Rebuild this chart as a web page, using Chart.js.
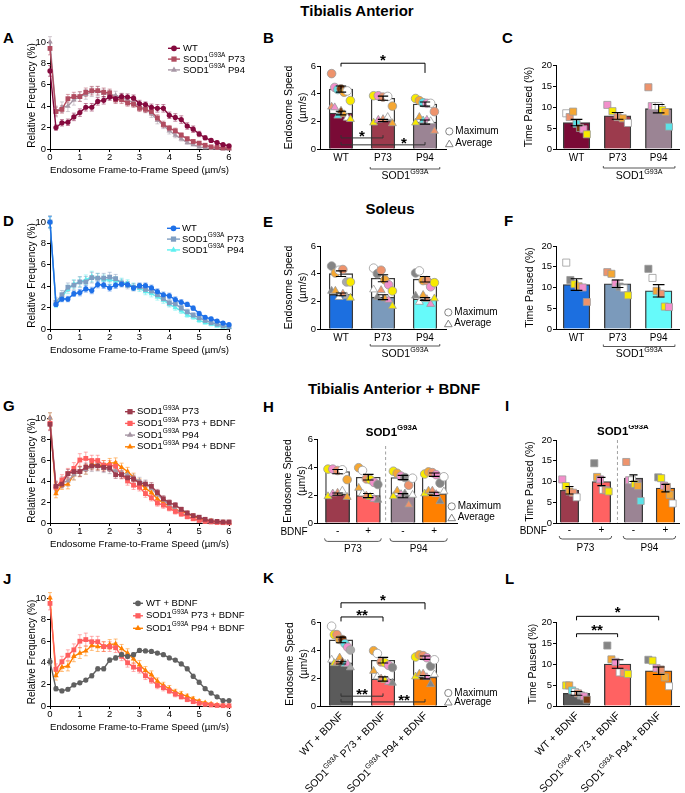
<!DOCTYPE html>
<html><head><meta charset="utf-8">
<script src="https://cdn.jsdelivr.net/npm/chart.js"></script>
<style>
html,body{margin:0;padding:0;background:#fff}
body{position:relative;width:685px;height:793px;overflow:hidden;font-family:"Liberation Sans",Arial,sans-serif}
.t{position:absolute;font-weight:bold;color:#000;line-height:1;white-space:nowrap;font-size:15px}
.sect{transform:translateX(-50%)}
canvas{position:absolute}
</style></head><body>
<div class="t sect" style="left:357px;top:3px">Tibialis Anterior</div>
<div class="t sect" style="left:390px;top:201px">Soleus</div>
<div class="t sect" style="left:394px;top:381px">Tibialis Anterior + BDNF</div>
<div class="t" style="left:3px;top:30px">A</div>
<div class="t" style="left:263px;top:30px">B</div>
<div class="t" style="left:502px;top:30px">C</div>
<div class="t" style="left:3px;top:213px">D</div>
<div class="t" style="left:263px;top:214px">E</div>
<div class="t" style="left:504px;top:213px">F</div>
<div class="t" style="left:3px;top:398px">G</div>
<div class="t" style="left:263px;top:399px">H</div>
<div class="t" style="left:505px;top:398px">I</div>
<div class="t" style="left:3px;top:571px">J</div>
<div class="t" style="left:263px;top:570px">K</div>
<div class="t" style="left:505px;top:571px">L</div>
<script>
// ===================== DATA =====================
const SPEED = [0,0.2,0.4,0.6,0.8,1.0,1.2,1.4,1.6,1.8,2.0,2.2,2.4,2.6,2.8,3.0,3.2,3.4,3.6,3.8,4.0,4.2,4.4,4.6,4.8,5.0,5.2,5.4,5.6,5.8,6.0];

// Tibialis anterior distributions (%)
const TA_WT = [7.3,2.0,2.45,2.5,3.0,3.4,3.9,3.9,4.45,4.55,4.85,4.7,4.9,4.85,4.75,4.25,4.15,3.9,3.8,3.8,3.15,2.95,2.75,2.15,1.85,1.4,1.05,0.8,0.6,0.4,0.3];
const TA_WT_SEM = [0.5,0.25,0.3,0.3,0.35,0.35,0.35,0.35,0.35,0.35,0.3,0.3,0.3,0.3,0.3,0.3,0.25,0.3,0.35,0.35,0.3,0.35,0.35,0.3,0.3,0.25,0.2,0.15,0.15,0.1,0.1];
const TA_P73 = [9.4,3.5,3.7,4.7,4.9,4.9,5.3,5.45,5.45,5.3,5.25,4.6,4.6,4.3,4.2,3.8,3.7,3.5,2.9,2.3,1.95,1.7,1.3,0.95,0.7,0.55,0.35,0.2,0.15,0.1,0.1];
const TA_P73_SEM = [0.6,0.4,0.35,0.4,0.4,0.45,0.4,0.4,0.4,0.4,0.35,0.35,0.35,0.3,0.3,0.3,0.3,0.35,0.3,0.3,0.25,0.25,0.2,0.2,0.15,0.15,0.1,0.08,0.05,0.05,0.05];
const TA_P94 = [10,3.5,3.9,4.0,4.6,4.9,5.1,5.35,5.4,5.2,5.1,5.0,4.8,4.6,4.3,4.0,3.75,3.3,2.7,2.2,1.7,1.3,0.95,0.6,0.4,0.2,0.1,0.05,0.05,0.02,0.02];
const TA_P94_SEM = [0.5,0.5,0.5,0.5,0.5,0.45,0.45,0.45,0.45,0.4,0.4,0.4,0.35,0.35,0.35,0.35,0.35,0.35,0.35,0.3,0.3,0.25,0.2,0.15,0.1,0.1,0.05,0.05,0.03,0.02,0.02];

// Soleus distributions (%)
const SOL_WT = [10,2.3,2.8,2.8,3.3,3.4,3.75,3.6,4.15,4.1,3.85,4.1,4.2,4.15,3.85,4.05,4.05,3.85,3.5,3.2,3.1,2.75,2.5,2.3,1.95,1.45,1.1,0.95,0.75,0.55,0.4];
const SOL_WT_SEM = [0.5,0.2,0.25,0.25,0.25,0.3,0.3,0.3,0.3,0.3,0.3,0.3,0.25,0.25,0.25,0.25,0.25,0.25,0.25,0.25,0.25,0.25,0.25,0.2,0.2,0.2,0.15,0.15,0.1,0.1,0.1];
const SOL_P73 = [10,2.5,3.2,3.9,4.1,4.4,4.4,4.8,4.75,4.75,4.85,4.7,4.3,4.1,3.9,3.95,3.7,3.55,3.2,2.85,2.45,2.35,1.95,1.6,1.3,1.05,0.8,0.6,0.45,0.3,0.2];
const SOL_P73_SEM = [0.6,0.4,0.4,0.4,0.45,0.5,0.5,0.5,0.45,0.45,0.45,0.4,0.35,0.35,0.35,0.3,0.3,0.3,0.3,0.3,0.3,0.3,0.25,0.25,0.2,0.2,0.15,0.15,0.1,0.1,0.1];
const SOL_P94 = [10,2.3,3.0,3.7,4.2,4.4,4.6,4.9,4.75,4.6,4.6,4.5,4.4,4.25,3.95,3.8,3.5,3.3,3.0,2.7,2.3,2.0,1.7,1.3,1.1,0.8,0.6,0.45,0.3,0.2,0.15];
const SOL_P94_SEM = [0.5,0.3,0.35,0.4,0.4,0.45,0.45,0.5,0.45,0.45,0.4,0.4,0.35,0.35,0.35,0.3,0.3,0.3,0.3,0.3,0.25,0.25,0.25,0.2,0.2,0.2,0.15,0.15,0.1,0.1,0.1];

// BDNF-treated distributions (%)
const BD_P73 = [9.5,3.4,4.1,4.7,5.2,6.0,6.15,5.95,5.95,5.5,5.5,5.4,4.6,4.0,3.6,3.4,2.8,2.4,1.9,1.7,1.4,1.1,0.85,0.6,0.4,0.25,0.15,0.1,0.05,0.03,0.02];
const BD_P73_SEM = [0.6,0.5,0.5,0.5,0.55,0.6,0.6,0.5,0.5,0.45,0.45,0.45,0.4,0.4,0.4,0.35,0.35,0.3,0.3,0.3,0.25,0.25,0.2,0.2,0.15,0.1,0.1,0.05,0.05,0.03,0.02];
const BD_P94 = [10,2.8,3.6,3.7,4.6,4.9,5.1,5.6,5.5,5.5,5.7,5.75,5.3,4.9,4.35,3.8,3.3,2.9,2.3,1.9,1.6,1.3,1.1,0.9,0.65,0.45,0.3,0.2,0.1,0.05,0.03];
const BD_P94_SEM = [0.5,0.4,0.4,0.45,0.5,0.5,0.45,0.45,0.45,0.45,0.45,0.45,0.4,0.4,0.4,0.4,0.35,0.35,0.3,0.3,0.3,0.25,0.25,0.2,0.2,0.15,0.1,0.1,0.05,0.05,0.03];
const BD_WT = [4.1,1.6,1.4,1.55,1.95,2.15,2.4,2.8,3.45,3.45,4.25,4.45,4.75,4.6,4.75,5.15,5.1,5.05,4.9,4.75,4.45,4.25,3.9,3.45,2.75,2.2,1.6,1.2,0.85,0.5,0.5];
const BD_WT_SEM = [0.3,0.2,0.15,0.15,0.15,0.15,0.15,0.2,0.2,0.2,0.2,0.2,0.2,0.2,0.2,0.15,0.15,0.15,0.15,0.15,0.15,0.15,0.15,0.2,0.2,0.2,0.15,0.15,0.1,0.1,0.1];

// legend names
const A_NAMES = ['WT','SOD1^{G93A} P73','SOD1^{G93A} P94'];
const G_NAMES = ['SOD1^{G93A} P73','SOD1^{G93A} P73 + BDNF','SOD1^{G93A} P94','SOD1^{G93A} P94 + BDNF'];
const J_NAMES = ['WT + BDNF','SOD1^{G93A} P73 + BDNF','SOD1^{G93A} P94 + BDNF'];

// Bar panels: categories
const TA_CATS = ['WT','P73','P94'];
const GROUP_LABEL = 'SOD1^{G93A}';
const BD_SIGN = ['-','+','-','+'];
const BD_GROUPS = ['P73','P94'];
const KL_CATS = ['WT + BDNF','SOD1^{G93A} P73 + BDNF','SOD1^{G93A} P94 + BDNF'];

// B: TA endosome speed (µm/s)
const TA_MAX_MEAN = [4.33,3.67,3.25], TA_MAX_SEM = [0.22,0.15,0.15];
const TA_AVG_MEAN = [2.6,2.06,1.95],  TA_AVG_SEM = [0.13,0.08,0.15];
const TA_IDS = [['s','p','c','b','o','w','y'],['y','p','s','w','o'],['y','o','c','p','w','s']];
const TA_MAX_PTS = [[5.45,4.45,4.3,4.35,4.1,4.2,3.5],[3.85,3.85,3.75,3.8,3.1],[3.65,3.5,3.35,3.3,3.3,2.7]];
const TA_AVG_PTS = [[3.05,3.0,2.4,2.75,2.5,2.25,2.15],[1.9,2.1,2.15,2.3,1.85],[1.9,2.3,2.05,2.1,2.0,1.3]];
// C: TA time paused (%)
const TA_PAUSE_MEAN = [6.3,7.9,9.6], TA_PAUSE_SEM = [0.75,0.8,1.0];
const TA_PAUSE_IDS = [['w','s','o','c','b','p','y'],['p','y','s','o','w'],['s','p','w','w','y','o','c']];
const TA_PAUSE_PTS = [[8.5,7.6,8.9,6.0,5.0,4.7,3.5],[10.5,9.0,7.6,7.3,6.2],[14.7,10.2,10.2,10.2,9.3,8.8,5.3]];
// E: soleus endosome speed
const SOL_MAX_MEAN = [4.0,3.67,3.6], SOL_MAX_SEM = [0.2,0.25,0.2];
const SOL_AVG_MEAN = [2.5,2.3,2.17], SOL_AVG_SEM = [0.1,0.18,0.1];
const SOL_IDS = [['d','o','w','s','g','y'],['w','d','s','o','p','y'],['d','w','o','s','p','y']];
const SOL_MAX_PTS = [[4.55,4.05,4.25,4.3,3.4,3.4],[4.4,4.0,4.25,3.55,3.2,2.75],[4.05,4.2,3.5,3.5,3.05,3.35]];
const SOL_AVG_PTS = [[2.75,2.75,2.3,2.55,2.35,2.25],[2.85,2.3,2.8,2.2,2.1,1.65],[2.4,1.95,2.45,2.15,1.8,2.2]];
// F: soleus time paused
const SOL_PAUSE_MEAN = [10.7,10.9,9.2], SOL_PAUSE_SEM = [1.4,0.9,1.5];
const SOL_PAUSE_IDS = [['w','d','y','o','p','s'],['s','o','p','d','w','y'],['d','w','o','s','y','p']];
const SOL_PAUSE_PTS = [[16.0,11.8,10.8,10.3,10.0,6.5],[13.7,13.3,11.0,10.2,9.8,8.1],[14.5,12.3,9.2,8.5,5.4,5.3]];
// H: BDNF endosome speed (P73-, P73+, P94-, P94+)
const H_MAX_MEAN = [3.67,3.27,3.25,3.45], H_MAX_SEM = [0.15,0.2,0.15,0.12];
const H_AVG_MEAN = [2.06,1.96,1.95,2.08], H_AVG_SEM = [0.08,0.15,0.15,0.12];
const H_IDS = [['y','p','s','w','o'],['o','w','s','y','p','d'],['y','o','p','d','s','w'],['y','o','s','p','d','w']];
const H_MAX_PTS = [[3.85,3.85,3.75,3.8,3.1],[3.95,3.75,3.15,3.1,2.9,2.75],[3.7,3.55,3.35,3.25,2.7,3.2],[3.5,3.65,3.6,3.45,2.85,3.3]];
const H_AVG_PTS = [[1.9,2.1,2.15,2.3,1.85],[2.5,2.1,1.95,1.85,1.7,1.65],[1.9,2.3,2.05,2.1,1.3,2.0],[2.1,2.3,2.3,2.05,1.55,2.25]];
// I: BDNF time paused
const I_PAUSE_MEAN = [7.9,10.0,10.8,8.4], I_PAUSE_SEM = [0.9,1.0,0.8,0.9];
const I_PAUSE_IDS = [['p','y','o','s','w'],['d','o','p','w','s','y'],['s','p','w','y','o','c'],['d','y','p','s','o','w']];
const I_PAUSE_PTS = [[10.5,8.9,7.6,7.3,6.2],[14.4,11.1,10.5,8.0,7.9,7.6],[14.7,10.3,10.3,9.4,8.9,5.3],[11.0,10.8,9.0,8.7,6.8,4.7]];
// K: WT+BDNF vs SOD1+BDNF endosome speed
const K_MAX_MEAN = [4.72,3.27,3.45], K_MAX_SEM = [0.2,0.2,0.12];
const K_AVG_MEAN = [3.08,1.93,2.06], K_AVG_SEM = [0.08,0.15,0.12];
const K_IDS = [['w','y','s','o','b','c','p','g'],['o','w','s','y','p','d'],['y','o','s','p','d','w']];
const K_MAX_PTS = [[5.7,5.1,5.1,4.75,4.75,4.45,4.2,4.0],[3.95,3.75,3.15,3.1,2.9,2.75],[3.5,3.65,3.6,3.45,2.85,3.3]];
const K_AVG_PTS = [[3.3,3.05,3.1,3.45,3.15,3.0,3.0,2.75],[2.5,2.1,1.95,1.85,1.7,1.65],[2.1,2.3,2.3,2.05,1.55,2.25]];
// L: time paused with BDNF
const L_PAUSE_MEAN = [3.0,10.0,8.4], L_PAUSE_SEM = [0.45,1.0,0.9];
const L_PAUSE_IDS = [['y','o','c','w','s','g','p','b'],['d','o','p','w','s','y'],['d','y','p','s','o','w']];
const L_PAUSE_PTS = [[4.9,4.9,3.7,3.3,3.0,2.5,2.3,1.5],[14.4,11.1,10.5,8.0,7.9,7.6],[11.0,10.8,9.0,8.7,6.8,4.7]];

// axis titles
const X_LINE_TITLE = 'Endosome Frame-to-Frame Speed (µm/s)';
const Y_LINE_TITLE = 'Relative Frequency (%)';
const Y_SPEED_TITLE = ['Endosome Speed','(µm/s)'];
const Y_PAUSE_TITLE = 'Time Paused (%)';
const LEG_MAX = 'Maximum', LEG_AVG = 'Average';

// ===================== STYLE / LAYOUT =====================
const FONT = '"Liberation Sans", Arial, Helvetica, sans-serif';
const K = '#000';
const PAL = {w:'#ffffff',c:'#5ce2e8',p:'#f28fcb',y:'#f8ea00',o:'#f5a733',s:'#ee936c',b:'#7a3a0e',g:'#a9a9a9',d:'#858585'};

function segs(str){const out=[];const re=/\^\{([^}]*)\}/g;let last=0,m;while((m=re.exec(str))){if(m.index>last)out.push([str.slice(last,m.index),0]);out.push([m[1],1]);last=re.lastIndex;}if(last<str.length)out.push([str.slice(last),0]);return out;}
function richText(ctx,str,x,y,size,align,weight){
  const sg=segs(str);const fs=s=>`${weight||'normal'} ${s?size*0.68:size}px ${FONT}`;
  let w=0;for(const [t,s] of sg){ctx.font=fs(s);w+=ctx.measureText(t).width;}
  let cx=align==='center'?x-w/2:align==='right'?x-w:x;
  ctx.textAlign='left';ctx.textBaseline='middle';ctx.fillStyle=K;
  for(const [t,s] of sg){ctx.font=fs(s);ctx.fillText(t,cx,s?y-size*0.38:y);cx+=ctx.measureText(t).width;}
}
function marker(ctx,shape,x,y,r){
  ctx.beginPath();
  if(shape==='circle')ctx.arc(x,y,r,0,Math.PI*2);
  else if(shape==='rect'){const s=r*Math.SQRT1_2;ctx.rect(x-s,y-s,2*s,2*s);}
  else{ctx.moveTo(x,y-r);ctx.lineTo(x+0.866*r,y+0.5*r);ctx.lineTo(x-0.866*r,y+0.5*r);ctx.closePath();}
}
function rgba(hex,a){const n=parseInt(hex.slice(1),16);return `rgba(${n>>16&255},${n>>8&255},${n&255},${a})`;}
function mount(R){
  const c=document.createElement('canvas');
  const w=R.W+R.yW+R.padR,h=R.H+R.padT+R.xH;
  c.width=w;c.height=h;
  c.style.left=(R.L-R.yW)+'px';c.style.top=(R.T-R.padT)+'px';c.style.width=w+'px';c.style.height=h+'px';
  document.body.appendChild(c);return c;
}
const tickFont={family:FONT,size:9.5};

function lineChart(R,S,LG){
  const cv=mount(R);
  const datasets=S.map(s=>({type:'line',data:SPEED.map((x,i)=>({x,y:s.y[i]})),borderColor:s.color,backgroundColor:s.color,
    borderWidth:1.4,pointStyle:s.shape,pointRadius:s.r,pointBorderWidth:0,pointBackgroundColor:s.color,clip:false,tension:0}));
  new Chart(cv,{type:'line',data:{datasets},options:{responsive:false,animation:false,events:[],
    layout:{padding:{left:0,right:R.padR,top:R.padT,bottom:0}},
    plugins:{legend:{display:false},tooltip:{enabled:false}},
    scales:{
      x:{type:'linear',min:0,max:6,ticks:{stepSize:1,font:tickFont,color:K,padding:0,maxRotation:0},
        grid:{drawOnChartArea:false,tickLength:3,color:K},border:{color:K},
        title:{display:true,text:X_LINE_TITLE,font:{family:FONT,size:9.8},color:K,padding:0},
        afterFit:s=>{s.height=R.xH;}},
      y:{type:'linear',min:0,max:10,ticks:{stepSize:2,font:tickFont,color:K,padding:1},
        grid:{drawOnChartArea:false,tickLength:3,color:K},border:{color:K},
        title:{display:true,text:Y_LINE_TITLE,font:{family:FONT,size:10},color:K,padding:{top:26,bottom:0}},
        afterFit:s=>{s.width=R.yW;}}
    }},
    plugins:[{id:'errleg',
      beforeDatasetsDraw(ch){const {ctx}=ch,xs=ch.scales.x,ys=ch.scales.y;ctx.save();
        S.slice().reverse().forEach(s=>{ctx.strokeStyle=rgba(s.color,0.5);ctx.lineWidth=1;
          SPEED.forEach((x,i)=>{const X=xs.getPixelForValue(x),Y1=ys.getPixelForValue(s.y[i]-s.e[i]),Y2=ys.getPixelForValue(s.y[i]+s.e[i]);
            ctx.beginPath();ctx.moveTo(X,Y1);ctx.lineTo(X,Y2);ctx.moveTo(X-2,Y1);ctx.lineTo(X+2,Y1);ctx.moveTo(X-2,Y2);ctx.lineTo(X+2,Y2);ctx.stroke();});});
        ctx.restore();},
      afterDraw(ch){const {ctx,chartArea:ca}=ch;ctx.save();
        S.forEach((s,k)=>{const y=ca.top+LG.y0+k*LG.dy;ctx.strokeStyle=s.color;ctx.lineWidth=1.4;
          ctx.beginPath();ctx.moveTo(ca.left+LG.x0,y);ctx.lineTo(ca.left+LG.x1,y);ctx.stroke();
          ctx.fillStyle=s.color;marker(ctx,s.shape,ca.left+(LG.x0+LG.x1)/2,y,s.r+0.3);ctx.fill();
          richText(ctx,s.name,ca.left+LG.tx,y,9.5,'left');});
        ctx.restore();}}]});
}

function ptsDataset(pos,pts,ids,shape,r,spreadU,order){
  const data=[],colors=[];
  pts.forEach((arr,g)=>{const n=arr.length;arr.forEach((v,i)=>{const off=n>1?(i/(n-1)-0.5)*spreadU:0;data.push({x:pos[g]+off,y:v});colors.push(PAL[ids[g][i]]);});});
  return {type:'scatter',data,pointStyle:shape,pointRadius:r,pointBackgroundColor:colors,pointBorderColor:'#9a9a9a',pointBorderWidth:0.8,order,clip:false};
}

function barChart(R,P){
  const cv=mount(R);
  const unit=R.W/(P.max-P.min);
  const spreadU=P.barW*0.8/unit;
  const ds=[];
  P.pts.forEach((pp,k)=>ds.push(ptsDataset(P.pos,pp.v,P.ids,pp.shape,pp.r,spreadU,k)));
  P.bars.forEach((b,k)=>ds.push({type:'bar',data:P.pos.map((x,g)=>({x,y:b.mean[g]})),backgroundColor:b.fill,borderColor:'#3a3a3a',
    borderWidth:1.3,barThickness:P.barW,grouped:false,order:10+k}));
  new Chart(cv,{type:'bar',data:{datasets:ds},options:{responsive:false,animation:false,events:[],
    layout:{padding:{left:0,right:R.padR,top:R.padT,bottom:0}},
    plugins:{legend:{display:false},tooltip:{enabled:false}},
    scales:{
      x:{type:'linear',offset:false,min:P.min,max:P.max,
        afterBuildTicks:s=>{s.ticks=P.pos.map(v=>({value:v}));},
        ticks:{display:!!P.cats,callback:(v,i)=>P.cats?P.cats[i]:'',font:{family:FONT,size:P.catSize||10},color:K,padding:P.catPad||3,autoSkip:false,maxRotation:0},
        grid:{display:false,drawTicks:false},border:{color:K,width:1},
        afterFit:s=>{s.height=R.xH;}},
      y:{type:'linear',min:0,max:P.yMax,ticks:{stepSize:P.yStep,font:tickFont,color:K,padding:1},
        grid:{drawOnChartArea:false,tickLength:3,color:K},border:{color:K,width:1},
        title:{display:true,text:P.yTitle,font:{family:FONT,size:10.5,lineHeight:1.25},color:K,padding:{top:P.yTitlePad,bottom:0}},
        afterFit:s=>{s.width=R.yW;}}
    }},
    plugins:[{id:'extras',afterDraw(ch){drawExtras(ch,P);}}]});
}

function drawExtras(ch,P){
  const {ctx,chartArea:ca}=ch,xs=ch.scales.x,ys=ch.scales.y;const px=v=>xs.getPixelForValue(v);const py=v=>ys.getPixelForValue(v);
  const half=P.barW/2;
  ctx.save();
  // error bars
  ctx.strokeStyle=K;ctx.lineWidth=1.1;const cap=P.barW*0.22;
  P.bars.forEach(b=>P.pos.forEach((x,g)=>{const X=px(x),Y1=py(b.mean[g]-b.sem[g]),Y2=py(b.mean[g]+b.sem[g]);
    ctx.beginPath();ctx.moveTo(X,Y1);ctx.lineTo(X,Y2);ctx.moveTo(X-cap,Y1);ctx.lineTo(X+cap,Y1);ctx.moveTo(X-cap,Y2);ctx.lineTo(X+cap,Y2);ctx.stroke();}));
  // significance brackets
  (P.sig||[]).forEach(s=>{ctx.strokeStyle=s.y<1.5?'#333':K;ctx.lineWidth=1;ctx.beginPath();
    ctx.moveTo(px(s.a),py(s.ya));ctx.lineTo(px(s.a),py(s.y));ctx.lineTo(px(s.b),py(s.y));ctx.lineTo(px(s.b),py(s.yb));ctx.stroke();
    ctx.fillStyle=K;ctx.font=`bold 15px ${FONT}`;ctx.textAlign='center';ctx.textBaseline='alphabetic';
    ctx.fillText(s.text,px(s.tx),py(s.ty)+8.5);});
  // group label under axis
  if(P.group){const g=P.group;const x1=px(P.pos[g.from])-half-1,x2=px(P.pos[g.to])+half+3,y=ca.bottom+g.lineDy;
    ctx.strokeStyle='#444';ctx.lineWidth=0.9;ctx.beginPath();ctx.moveTo(x1,y-2);ctx.lineTo(x1,y);ctx.lineTo(x2,y);ctx.lineTo(x2,y-2);ctx.stroke();
    richText(ctx,GROUP_LABEL,(x1+x2)/2,ca.bottom+g.textDy,10.5,'center');}
  // BDNF row
  if(P.bdnf){const b=P.bdnf;ctx.fillStyle=K;ctx.font=`10px ${FONT}`;ctx.textAlign='center';ctx.textBaseline='middle';
    ctx.fillText('BDNF',ca.left+b.dx,ca.bottom+b.rowDy);
    [[0,1],[2,3]].forEach(([a,c],k)=>{const x1=px(P.pos[a])-half-1,x2=px(P.pos[c])+half+1,y=ca.bottom+b.brDy;
      ctx.strokeStyle='#444';ctx.lineWidth=0.9;ctx.beginPath();ctx.moveTo(x1,y-3);ctx.quadraticCurveTo(x1,y,x1+3,y);ctx.lineTo(x2-3,y);ctx.quadraticCurveTo(x2,y,x2,y-3);ctx.stroke();
      ctx.fillStyle=K;ctx.font=`10px ${FONT}`;ctx.textAlign='center';ctx.textBaseline='middle';ctx.fillText(BD_GROUPS[k],(x1+x2)/2,ca.bottom+b.labDy);});
    const dx=px((P.pos[1]+P.pos[2])/2);
    ctx.strokeStyle='#a0a0a0';ctx.lineWidth=1;ctx.setLineDash([3,2.5]);ctx.beginPath();ctx.moveTo(dx,ca.top+b.dashTop);ctx.lineTo(dx,ca.bottom);ctx.stroke();ctx.setLineDash([]);
    richText(ctx,GROUP_LABEL,dx+b.titleDx,ca.top+b.titleDy,11.5,'center','bold');}
  // rotated labels
  if(P.rot){P.rot.forEach((lab,g)=>{ctx.save();ctx.translate(px(P.pos[g])+P.rotDx,ca.bottom+P.rotDy);ctx.rotate(-Math.PI/4);richText(ctx,lab,0,0,10.5,'right');ctx.restore();});}
  // max/avg legend
  if(P.leg){const L=P.leg;const x=ca.left+L.x;ctx.strokeStyle='#777';ctx.lineWidth=0.9;ctx.fillStyle='#fff';
    marker(ctx,'circle',x,ca.bottom+L.y1,3.6);ctx.fill();ctx.stroke();
    marker(ctx,'triangle',x,ca.bottom+L.y2+0.8,4.4);ctx.fill();ctx.stroke();
    ctx.fillStyle=K;ctx.font=`10px ${FONT}`;ctx.textAlign='left';ctx.textBaseline='middle';
    ctx.fillText(LEG_MAX,x+6,ca.bottom+L.y1);ctx.fillText(LEG_AVG,x+6,ca.bottom+L.y2);}
  ctx.restore();
}

// ---- line panels ----
const LR=(T,H)=>({L:50,T,W:179,H,yW:50,xH:27,padT:30,padR:20});
lineChart(LR(42,107),[
  {name:A_NAMES[0],y:TA_WT,e:TA_WT_SEM,color:'#850a3e',shape:'circle',r:2.6},
  {name:A_NAMES[1],y:TA_P73,e:TA_P73_SEM,color:'#b14c60',shape:'rect',r:3.4},
  {name:A_NAMES[2],y:TA_P94,e:TA_P94_SEM,color:'#a898a6',shape:'triangle',r:3.2}],
  {x0:118,x1:130,tx:133,y0:6.3,dy:10.8});
lineChart(LR(222,107),[
  {name:A_NAMES[0],y:SOL_WT,e:SOL_WT_SEM,color:'#1e70e8',shape:'circle',r:2.6},
  {name:A_NAMES[1],y:SOL_P73,e:SOL_P73_SEM,color:'#7f9ec2',shape:'rect',r:3.4},
  {name:A_NAMES[2],y:SOL_P94,e:SOL_P94_SEM,color:'#5ff0f0',shape:'triangle',r:3.2}],
  {x0:117,x1:130,tx:132,y0:6.3,dy:10.8});
lineChart(LR(418,105),[
  {name:G_NAMES[0],y:TA_P73,e:TA_P73_SEM,color:'#9c3b4d',shape:'rect',r:3.4},
  {name:G_NAMES[1],y:BD_P73,e:BD_P73_SEM,color:'#ff5f5f',shape:'rect',r:3.4},
  {name:G_NAMES[2],y:TA_P94,e:TA_P94_SEM,color:'#a595a3',shape:'triangle',r:3.2},
  {name:G_NAMES[3],y:BD_P94,e:BD_P94_SEM,color:'#ff8000',shape:'triangle',r:3.2}],
  {x0:75,x1:85,tx:87,y0:-6.3,dy:11.7});
lineChart(LR(598,108),[
  {name:J_NAMES[0],y:BD_WT,e:BD_WT_SEM,color:'#606060',shape:'circle',r:2.6},
  {name:J_NAMES[1],y:BD_P73,e:BD_P73_SEM,color:'#ff5f5f',shape:'rect',r:3.4},
  {name:J_NAMES[2],y:BD_P94,e:BD_P94_SEM,color:'#ff8000',shape:'triangle',r:3.2}],
  {x0:83,x1:93,tx:96,y0:5.3,dy:12.5});

// ---- bar panels ----
const POS3=[0,1,2];
const TA_FILLS=['#7a0a36','#9c3b4d','#9b8494'];
const SOL_FILLS=['#1c6fe0','#7b9abb','#66fafa'];
const H_FILLS=['#9c3b4d','#ff6262','#9b8494','#ff8000'];
const K_FILLS=['#5b5b5b','#ff6262','#ff8000'];
const speedPts=(mx,av)=>[{v:mx,shape:'circle',r:4.3},{v:av,shape:'triangle',r:4.6}];
const pausePts=v=>[{v,shape:'rect',r:5}];

// B
barChart({L:320,T:66,W:126,H:83,yW:50,xH:40,padT:25,padR:60},{
  pos:POS3,min:-0.5,max:2.5,barW:23.5,cats:TA_CATS,yMax:6,yStep:1,yTitle:Y_SPEED_TITLE,yTitlePad:13,ids:TA_IDS,
  pts:speedPts(TA_MAX_PTS,TA_AVG_PTS),
  bars:[{mean:TA_AVG_MEAN,sem:TA_AVG_SEM,fill:TA_FILLS},{mean:TA_MAX_MEAN,sem:TA_MAX_SEM,fill:'#ffffff'}],
  sig:[{a:0,b:2,y:6.2,ya:5.96,yb:5.5,text:'*',tx:1,ty:6.72},{a:0,b:1,y:0.8,ya:1.0,yb:1.0,text:'*',tx:0.5,ty:1.17},{a:0,b:2,y:0.3,ya:0.5,yb:0.5,text:'*',tx:1.5,ty:0.72}],
  group:{from:1,to:2,lineDy:20,textDy:27.5},leg:{x:129.3,y1:-17.6,y2:-5.3}});
// C
barChart({L:556,T:65,W:127,H:84,yW:46,xH:40,padT:10,padR:2},{
  pos:POS3,min:-0.5,max:2.5,barW:26.5,cats:TA_CATS,yMax:20,yStep:5,yTitle:Y_PAUSE_TITLE,yTitlePad:13,ids:TA_PAUSE_IDS,
  pts:pausePts(TA_PAUSE_PTS),bars:[{mean:TA_PAUSE_MEAN,sem:TA_PAUSE_SEM,fill:TA_FILLS}],
  group:{from:1,to:2,lineDy:19,textDy:27.5}});
// E
barChart({L:320,T:246,W:126,H:83,yW:50,xH:40,padT:10,padR:60},{
  pos:POS3,min:-0.5,max:2.5,barW:23.5,cats:TA_CATS,yMax:6,yStep:1,yTitle:Y_SPEED_TITLE,yTitlePad:13,ids:SOL_IDS,
  pts:speedPts(SOL_MAX_PTS,SOL_AVG_PTS),
  bars:[{mean:SOL_AVG_MEAN,sem:SOL_AVG_SEM,fill:SOL_FILLS},{mean:SOL_MAX_MEAN,sem:SOL_MAX_SEM,fill:'#ffffff'}],
  group:{from:1,to:2,lineDy:17,textDy:25},leg:{x:128.3,y1:-16.6,y2:-5.3}});
// F
barChart({L:556,T:246,W:127,H:83,yW:46,xH:40,padT:10,padR:2},{
  pos:POS3,min:-0.5,max:2.5,barW:26.5,cats:TA_CATS,yMax:20,yStep:5,yTitle:Y_PAUSE_TITLE,yTitlePad:14,ids:SOL_PAUSE_IDS,
  pts:pausePts(SOL_PAUSE_PTS),bars:[{mean:SOL_PAUSE_MEAN,sem:SOL_PAUSE_SEM,fill:SOL_FILLS}],
  group:{from:1,to:2,lineDy:17.5,textDy:25.5}});
// H
barChart({L:317,T:439,W:140,H:84,yW:48,xH:34,padT:15,padR:60},{
  pos:[0,1,2.13,3.15],min:-0.67,max:3.89,barW:24,cats:BD_SIGN,catPad:2,yMax:6,yStep:1,yTitle:Y_SPEED_TITLE,yTitlePad:13,ids:H_IDS,
  pts:speedPts(H_MAX_PTS,H_AVG_PTS),
  bars:[{mean:H_AVG_MEAN,sem:H_AVG_SEM,fill:H_FILLS},{mean:H_MAX_MEAN,sem:H_MAX_SEM,fill:'#ffffff'}],
  bdnf:{dx:-23,rowDy:9.4,brDy:18.4,labDy:26,dashTop:7,titleDx:6,titleDy:-6.6},leg:{x:134.7,y1:-16.6,y2:-5.3}});
// I
barChart({L:556,T:440,W:127,H:83,yW:46,xH:33,padT:15,padR:2},{
  pos:[0,1,2,3],min:-0.42,max:3.43,barW:18.5,cats:BD_SIGN,catPad:1,yMax:20,yStep:5,yTitle:Y_PAUSE_TITLE,yTitlePad:14,ids:I_PAUSE_IDS,
  pts:pausePts(I_PAUSE_PTS),bars:[{mean:I_PAUSE_MEAN,sem:I_PAUSE_SEM,fill:H_FILLS}],
  bdnf:{dx:-22.7,rowDy:8.4,brDy:16,labDy:25,dashTop:0,titleDx:5.4,titleDy:-8.3}});
// K
barChart({L:320,T:622,W:126,H:84,yW:50,xH:88,padT:40,padR:60},{
  pos:POS3,min:-0.5,max:2.5,barW:23.5,yMax:6,yStep:1,yTitle:Y_SPEED_TITLE,yTitlePad:14,ids:K_IDS,
  pts:speedPts(K_MAX_PTS,K_AVG_PTS),
  bars:[{mean:K_AVG_MEAN,sem:K_AVG_SEM,fill:K_FILLS},{mean:K_MAX_MEAN,sem:K_MAX_SEM,fill:'#ffffff'}],
  sig:[{a:0,b:2,y:7.37,ya:7.0,yb:6.9,text:'*',tx:1,ty:7.82},{a:0,b:1,y:6.36,ya:6.04,yb:6.04,text:'**',tx:0.5,ty:6.76},
       {a:0,b:1,y:0.7,ya:0.9,yb:0.9,text:'**',tx:0.5,ty:1.08},{a:0,b:2,y:0.29,ya:0.49,yb:0.49,text:'**',tx:1.5,ty:0.65}],
  rot:KL_CATS,rotDx:1,rotDy:8,leg:{x:128.3,y1:-13,y2:-4}});
// L
barChart({L:556,T:622,W:127,H:84,yW:46,xH:88,padT:25,padR:2},{
  pos:POS3,min:-0.5,max:2.5,barW:26.5,yMax:20,yStep:5,yTitle:Y_PAUSE_TITLE,yTitlePad:17,ids:L_PAUSE_IDS,
  pts:pausePts(L_PAUSE_PTS),bars:[{mean:L_PAUSE_MEAN,sem:L_PAUSE_SEM,fill:K_FILLS}],
  sig:[{a:0,b:2,y:21.35,ya:20.4,yb:20.4,text:'*',tx:1,ty:23.1},{a:0,b:1,y:17.2,ya:16.4,yb:16.4,text:'**',tx:0.5,ty:19.0}],
  rot:KL_CATS,rotDx:1,rotDy:8});
</script>
</body></html>
